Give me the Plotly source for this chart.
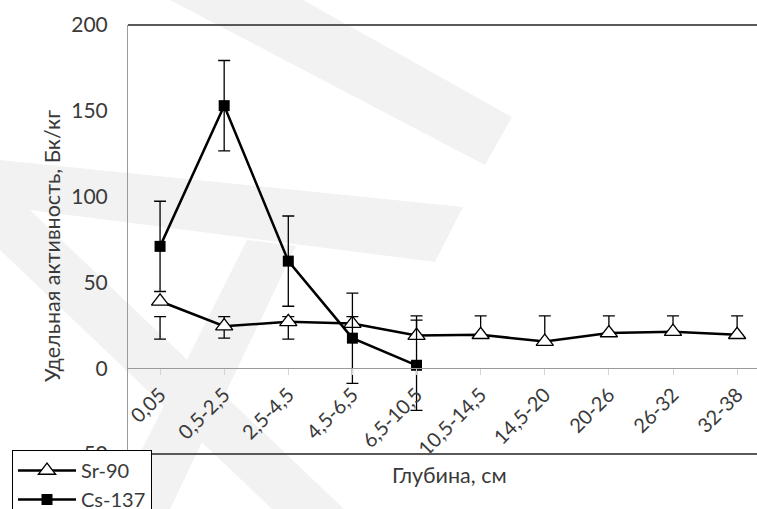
import plotly.graph_objects as go

# Depth intervals (cm)
depths = ["0,05", "0,5-2,5", "2,5-4,5", "4,5-6,5", "6,5-10,5",
          "10,5-14,5", "14,5-20", "20-26", "26-32", "32-38"]

# Sr-90 specific activity, Bq/kg, and the ends of its error bars
sr90 = [39, 24.5, 27, 26, 19, 19.5, 15.5, 20.5, 21.3, 19.5]
sr90_err_low = [17, 17.5, 17, 26, 19, 19.5, 15.5, 20.5, 21.3, 19.5]
sr90_err_high = [30, 30, 30, 30, 30.5, 30.5, 30.5, 30.5, 30.5, 30.5]

# Cs-137 specific activity, Bq/kg (measured in the upper five layers)
cs137_depths = depths[:5]
cs137 = [71, 153, 62.4, 17.5, 1.7]
cs137_err = [26.3, 26.3, 26.3, 26.3, 26.3]

y_ticks = [-50, 0, 50, 100, 150, 200]

W, H = 757, 509
ML, MR, MT, MB = 128, 0, 25, 55
PW, PH = W - ML - MR, H - MT - MB

FONT = "Lato"
TXT = "#3a3a3a"


def px_to_paper(x, y):
    return (x - ML) / PW, (H - MB - y) / PH


def poly(points):
    pts = [px_to_paper(x, y) for x, y in points]
    d = "M " + " L ".join(f"{x:.4f},{y:.4f}" for x, y in pts) + " Z"
    return dict(type="path", path=d, xref="paper", yref="paper",
                fillcolor="#f2f2f2", line=dict(width=0), layer="below")


# light background emblem
emblem = [
    [(170, 0), (303, 0), (512, 117), (485, 165)],
    [(0, 160), (463, 207), (435, 262), (30, 210), (0, 210)],
    [(0, 205), (30, 210), (344, 509), (272, 509), (0, 250)],
    [(247, 240), (296, 246), (170, 509), (112, 509)],
]

fig = go.Figure()

# Sr-90 error bars, drawn from low end up to high end
fig.add_trace(go.Scatter(
    x=depths, y=sr90_err_low, mode="markers",
    marker=dict(size=1, opacity=0),
    error_y=dict(type="data", symmetric=False,
                 array=[h - l for h, l in zip(sr90_err_high, sr90_err_low)],
                 arrayminus=[0] * len(depths),
                 color="black", thickness=1.3, width=6),
    showlegend=False, hoverinfo="skip"))

fig.add_trace(go.Scatter(
    x=depths, y=sr90, name="Sr-90", mode="lines+markers",
    line=dict(color="black", width=2.5),
    marker=dict(symbol="triangle-up", size=15, color="white",
                line=dict(color="black", width=1.3))))

fig.add_trace(go.Scatter(
    x=cs137_depths, y=cs137, name="Cs-137", mode="lines+markers",
    line=dict(color="black", width=2.5),
    marker=dict(symbol="square", size=11, color="black"),
    error_y=dict(type="data", array=cs137_err, color="black",
                 thickness=1.3, width=6)))

shapes = [poly(p) for p in emblem]
# frame lines along the top and bottom of the plotting area
for yv in (1, 0):
    shapes.append(dict(type="line", xref="paper", yref="paper", x0=0, x1=1,
                       y0=yv, y1=yv, layer="above",
                       line=dict(color="#595959", width=2)))

fig.update_layout(
    width=W, height=H,
    margin=dict(l=ML, r=MR, t=MT, b=MB, autoexpand=False),
    paper_bgcolor="white", plot_bgcolor="rgba(0,0,0,0)",
    font=dict(family=FONT, size=21, color=TXT),
    shapes=shapes,
    xaxis=dict(type="category", range=[-0.5, 9.31],
               anchor="free", position=(0 - y_ticks[0]) / (y_ticks[-1] - y_ticks[0]),
               showline=True, linecolor="#9a9a9a", linewidth=1,
               ticks="outside", ticklen=6, tickcolor="#d4d4d4",
               tickangle=-45, tickfont=dict(family=FONT, size=20, color=TXT),
               showgrid=False, zeroline=False),
    yaxis=dict(range=[y_ticks[0], y_ticks[-1]], tickvals=y_ticks,
               showline=True, linecolor="#9a9a9a", linewidth=1,
               ticks="", ticklabelstandoff=15,
               tickfont=dict(family=FONT, size=21, color=TXT),
               showgrid=False, zeroline=False),
    legend=dict(x=(12 - ML) / PW, y=(H - MB - 450) / PH,
                xanchor="left", yanchor="top",
                bgcolor="white", bordercolor="black", borderwidth=1,
                font=dict(family=FONT, size=20, color=TXT),
                itemwidth=58, tracegroupgap=0),
    annotations=[
        dict(text="Удельная активность, Бк/кг", textangle=-90,
             x=(52 - ML) / PW, y=(H - MB - 246) / PH,
             xanchor="center", yanchor="middle",
             xref="paper", yref="paper", showarrow=False,
             font=dict(family=FONT, size=21.5, color=TXT)),
        dict(text="Глубина, см",
             x=(449 - ML) / PW, y=(H - MB - 475) / PH,
             xanchor="center", yanchor="middle",
             xref="paper", yref="paper", showarrow=False,
             font=dict(family=FONT, size=21.5, color=TXT)),
    ],
)

fig.write_html("out.html")
